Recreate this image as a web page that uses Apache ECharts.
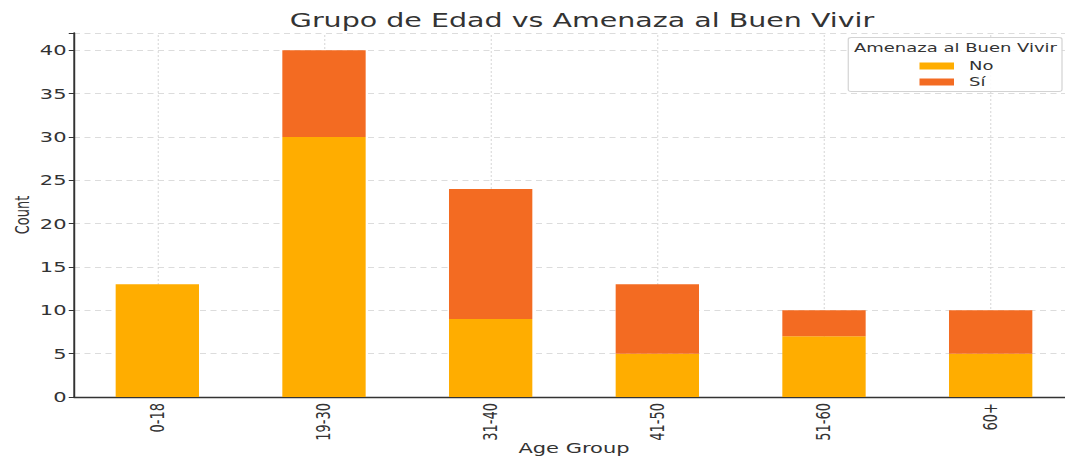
<!DOCTYPE html>
<html><head><meta charset="utf-8">
<script src="https://cdn.jsdelivr.net/npm/echarts@6/dist/echarts.min.js"></script>
<style>
html,body{margin:0;padding:0;background:#fff;overflow:hidden}
#wrap{width:1065px;height:457px;overflow:hidden}
#c{width:710px;height:457px;transform:scaleX(1.5);transform-origin:0 0}
</style>
</head><body><div id="wrap"><div id="c"></div></div>
<script>
const categories = ['0-18', '19-30', '31-40', '41-50', '51-60', '60+'];
const noValues = [13, 30, 9, 5, 7, 5];
const siValues = [0, 10, 15, 8, 3, 5];
const yTicks = { min: 0, max: 42, interval: 5 };
const seriesNames = ['No', 'Sí'];
const colors = ['#FFAD00', '#F36B22'];

const chart = echarts.init(document.getElementById('c'), null, { renderer: 'svg' });
const font = 'DejaVu Sans';
chart.setOption({
  animation: false,
  backgroundColor: '#fff',
  title: {
    text: 'Grupo de Edad vs Amenaza al Buen Vivir',
    left: 383, top: 6, textAlign: 'center',
    textStyle: { fontFamily: font, fontSize: 19, fontWeight: 'normal', color: '#333' }
  },
  graphic: [{
    type: 'rect', shape: { x: 565.5, y: 37.5, width: 142.5, height: 54, r: 2 },
    style: { fill: 'rgba(255,255,255,0.85)', stroke: '#d3d3d3', lineWidth: 0.8 }, z: 10
  }, {
    type: 'text', x: 637, y: 48.5, z: 11,
    style: { text: 'Amenaza al Buen Vivir', fontFamily: font, fontSize: 12, fill: '#333', align: 'center', verticalAlign: 'middle' }
  }],
  legend: {
    data: seriesNames, orient: 'vertical', left: 613, top: 60, itemGap: 4,
    itemWidth: 23, itemHeight: 7, icon: 'rect', z: 12, padding: 0,
    textStyle: { fontFamily: font, fontSize: 12, lineHeight: 12, color: '#333', padding: [0, 0, 0, 5] }
  },
  grid: { left: 49.33, top: 33, width: 666.67, height: 364, containLabel: false, outerBoundsMode: 'none' },
  xAxis: {
    type: 'category', data: categories,
    name: 'Age Group', nameLocation: 'middle', nameGap: 44, nameMoveOverlap: false,
    nameTextStyle: { fontFamily: font, fontSize: 14, color: '#333', verticalAlign: 'top' },
    axisLine: { lineStyle: { color: '#333', width: 1.3 } },
    axisTick: { alignWithLabel: true, length: 4, lineStyle: { color: '#333', width: 0.8 } },
    axisLabel: { rotate: 90, fontFamily: font, fontSize: 13, color: '#333', margin: 6 },
    splitLine: { show: false }
  },
  yAxis: {
    type: 'value', min: yTicks.min, max: yTicks.max, interval: yTicks.interval,
    name: 'Count', nameLocation: 'middle', nameGap: 28, nameMoveOverlap: false,
    nameTextStyle: { fontFamily: font, fontSize: 13, color: '#333' },
    axisLine: { show: true, lineStyle: { color: '#333', width: 1.3 } },
    axisTick: { show: true, length: 3.5, lineStyle: { color: '#333', width: 1 } },
    axisLabel: { fontFamily: font, fontSize: 14, color: '#333', margin: 5,
      formatter: v => (v % 5 === 0 ? String(v) : '') },
    splitLine: { show: true, lineStyle: { color: '#dcdcdc', type: [4, 3], width: 1 } }
  },
  series: [{
    name: 'gridx', type: 'line', data: [], z: 1, silent: true,
    markLine: {
      z: 1, symbol: 'none', silent: true, label: { show: false },
      lineStyle: { color: '#d8d8d8', type: [2, 2], width: 0.7 },
      emphasis: { disabled: true },
      data: categories.map(c => ({ xAxis: c }))
    }
  }, {
    name: seriesNames[0], type: 'bar', stack: 'a', data: noValues, barWidth: '50%', z: 2,
    itemStyle: { color: colors[0] }
  }, {
    name: seriesNames[1], type: 'bar', stack: 'a', data: siValues, barWidth: '50%', z: 2,
    itemStyle: { color: colors[1] }
  }]
});
</script></body></html>
